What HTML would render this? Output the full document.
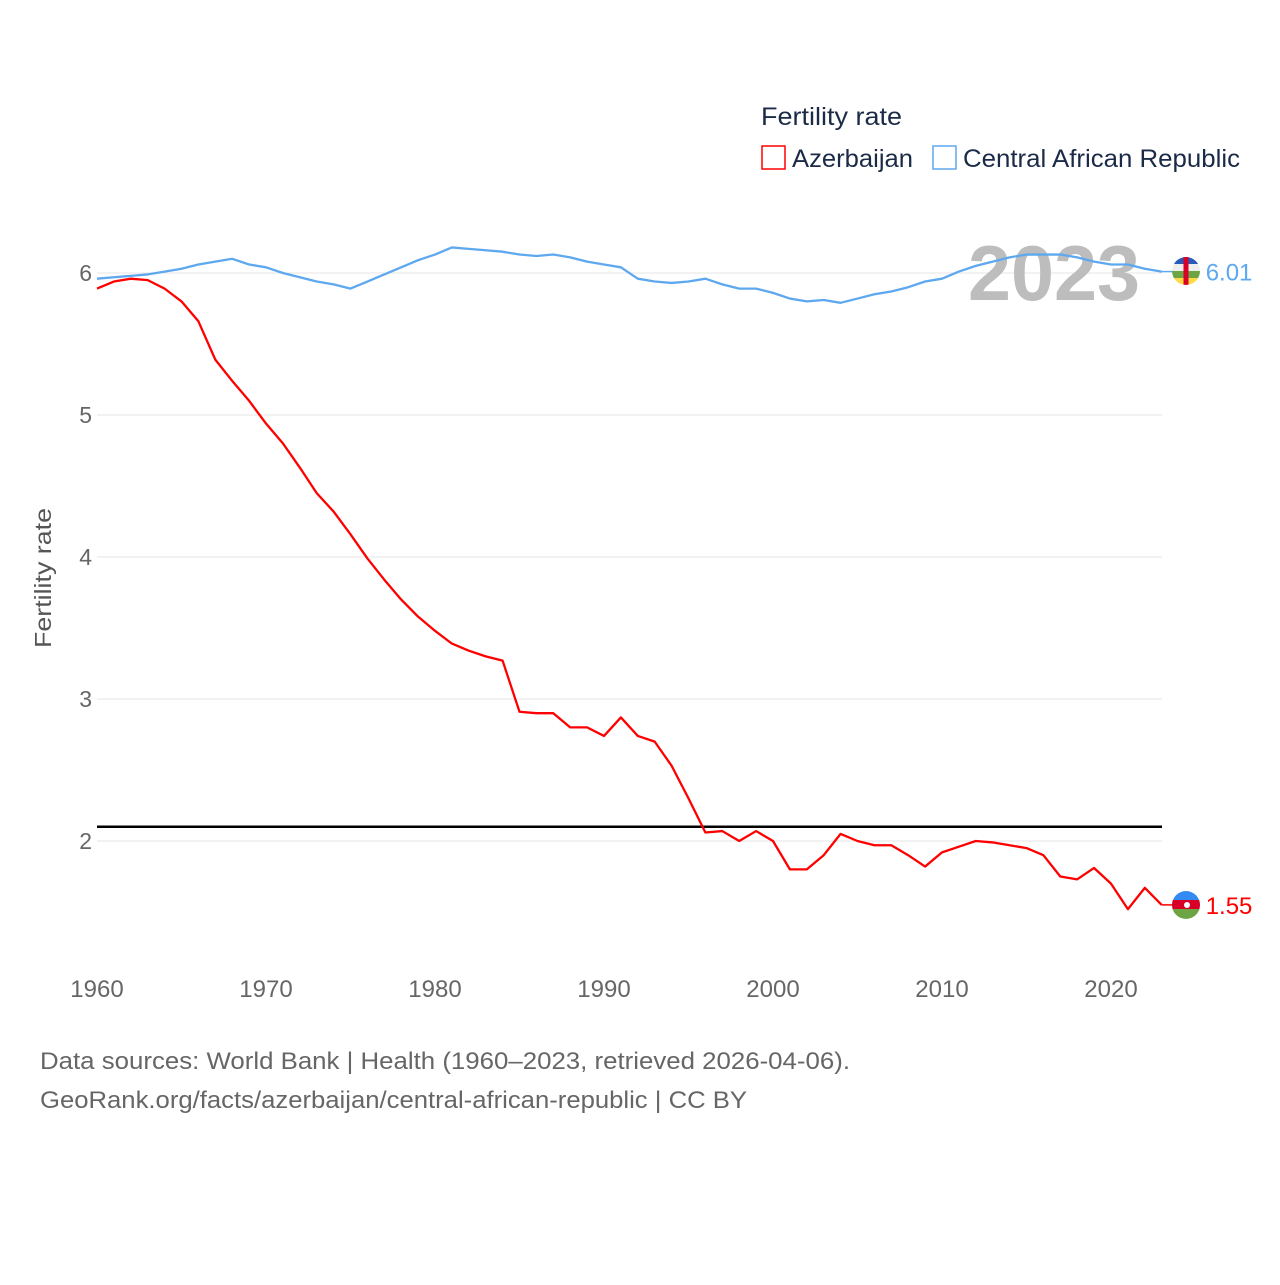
<!DOCTYPE html>
<html><head><meta charset="utf-8"><style>
body{margin:0;background:#fff;}
svg text{font-family:"Liberation Sans",sans-serif;}
</style></head><body>
<svg id="chart" width="1280" height="1280" xmlns="http://www.w3.org/2000/svg">
<defs>
<clipPath id="clipCar"><circle cx="1186" cy="271" r="14"/></clipPath>
<clipPath id="clipAz"><circle cx="1186" cy="905" r="14"/></clipPath>
</defs>
<text x="761" y="125" font-size="25" fill="#1b2a47" textLength="141" lengthAdjust="spacingAndGlyphs">Fertility rate</text>
<g><rect x="762" y="146" width="23" height="23" fill="none" stroke="#ff0000" stroke-width="1.5"/><text x="792" y="167" font-size="25" fill="#1b2a47" textLength="121" lengthAdjust="spacingAndGlyphs">Azerbaijan</text></g>
<g><rect x="933" y="146" width="23" height="23" fill="none" stroke="#5ea8ef" stroke-width="1.5"/><text x="963" y="167" font-size="25" fill="#1b2a47" textLength="277" lengthAdjust="spacingAndGlyphs">Central African Republic</text></g>
<g id="grid"></g>
<text x="968" y="300" font-size="78" font-weight="bold" fill="#bdbdbd" textLength="172" lengthAdjust="spacingAndGlyphs">2023</text>
<g id="marks"></g>
<text transform="translate(51,578) rotate(-90)" font-size="23" fill="#555" text-anchor="middle" textLength="140" lengthAdjust="spacingAndGlyphs">Fertility rate</text>
<text x="40" y="1069" font-size="24" fill="#666" textLength="810" lengthAdjust="spacingAndGlyphs">Data sources: World Bank | Health (1960–2023, retrieved 2026-04-06).</text>
<text x="40" y="1108" font-size="24" fill="#666" textLength="707" lengthAdjust="spacingAndGlyphs">GeoRank.org/facts/azerbaijan/central-african-republic | CC BY</text>
<g clip-path="url(#clipCar)">
<rect x="1172" y="257" width="28" height="7" fill="#2a5bb8"/><rect x="1172" y="264" width="28" height="7" fill="#eeeeee"/><rect x="1172" y="271" width="28" height="7" fill="#6da544"/><rect x="1172" y="278" width="28" height="7" fill="#ffda44"/><rect x="1183.5" y="257" width="5" height="28" fill="#d80027"/>
</g>
<g clip-path="url(#clipAz)">
<rect x="1172" y="891" width="28" height="10" fill="#338af3"/><rect x="1172" y="900" width="28" height="10" fill="#d80027"/><rect x="1172" y="909" width="28" height="10" fill="#6da544"/><circle cx="1187" cy="905" r="3" fill="#fff"/>
</g>
</svg>
<script>
const years=[];for(let y=1960;y<=2023;y++)years.push(y);
const azerbaijan=[5.89,5.94,5.96,5.95,5.89,5.80,5.66,5.39,5.24,5.10,4.94,4.80,4.63,4.45,4.32,4.16,3.99,3.84,3.70,3.58,3.48,3.39,3.34,3.30,3.27,2.91,2.90,2.90,2.80,2.80,2.74,2.87,2.74,2.70,2.53,2.30,2.06,2.07,2.00,2.07,2.00,1.80,1.80,1.90,2.05,2.00,1.97,1.97,1.90,1.82,1.92,1.96,2.00,1.99,1.97,1.95,1.90,1.75,1.73,1.81,1.70,1.52,1.67,1.55];
const car=[5.96,5.97,5.98,5.99,6.01,6.03,6.06,6.08,6.10,6.06,6.04,6.00,5.97,5.94,5.92,5.89,5.94,5.99,6.04,6.09,6.13,6.18,6.17,6.16,6.15,6.13,6.12,6.13,6.11,6.08,6.06,6.04,5.96,5.94,5.93,5.94,5.96,5.92,5.89,5.89,5.86,5.82,5.80,5.81,5.79,5.82,5.85,5.87,5.90,5.94,5.96,6.01,6.05,6.08,6.11,6.13,6.13,6.13,6.11,6.08,6.06,6.06,6.03,6.01];
const yTicks=[2,3,4,5,6];
const xTicks=[1960,1970,1980,1990,2000,2010,2020];
const replacement=2.1;
const X=y=>97+(y-1960)*(1161.7-97)/63;
const Y=v=>273+(6-v)*142;
const NS="http://www.w3.org/2000/svg";
const grid=document.getElementById('grid'),marks=document.getElementById('marks');
function mk(tag,attrs,parent){const e=document.createElementNS(NS,tag);for(const k in attrs)e.setAttribute(k,attrs[k]);parent.appendChild(e);return e;}
yTicks.forEach(v=>{
 const l=mk('line',{x1:97,x2:1162,y1:Y(v),y2:Y(v),stroke:'#e6e6e6','stroke-width':1},grid);
 
 
 const t=mk('text',{x:92,y:Y(v)+8,'font-size':23,fill:'#666','text-anchor':'end'},grid);t.textContent=v;
 
 
});
xTicks.forEach(v=>{
 const t=mk('text',{x:X(v),y:997,'font-size':24,fill:'#666','text-anchor':'middle'},grid);t.textContent=v;
 
 
});
const rl=mk('line',{x1:97,x2:1162,y1:Y(replacement),y2:Y(replacement),stroke:'#000','stroke-width':2.5},marks);


function series(vals,color,name){
 const p=mk('polyline',{points:vals.map((v,i)=>X(years[i])+','+Y(v)).join(' '),fill:'none',stroke:color,'stroke-width':2.3,'stroke-linejoin':'round'},marks);
 
 
 const last=vals[vals.length-1],lx=X(years[years.length-1]);
 mk('line',{x1:lx,x2:lx+12,y1:Y(last),y2:Y(last),stroke:color,'stroke-width':1.5},marks);
 const t=mk('text',{x:lx+44,y:Y(last)+9,'font-size':24,fill:color},marks);t.textContent=last.toFixed(2);
 
 
}
series(car,'#5ea8ef','car');
series(azerbaijan,'#ff0000','azerbaijan');
</script>
</body></html>
